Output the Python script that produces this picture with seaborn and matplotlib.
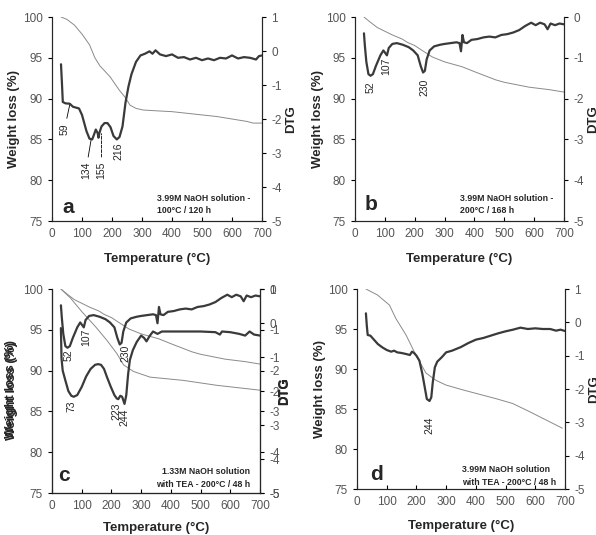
import matplotlib
matplotlib.use("Agg")
import matplotlib.pyplot as plt
import seaborn as sns

# ---- panel a : 3.99M NaOH, 100 C / 120 h ----
a_tg_T = [30, 50, 75, 100, 125, 143, 160, 193, 210, 225, 243, 260, 280, 304, 350, 400, 450, 500, 550, 600, 650, 670, 700]
a_tg_W = [100, 99.7, 99.0, 97.9, 96.6, 95.0, 94.0, 92.7, 91.8, 91.0, 90.2, 89.2, 88.8, 88.6, 88.5, 88.4, 88.2, 88.0, 87.8, 87.5, 87.2, 87.0, 87.0]
a_dtg_T = [30, 33, 36, 45, 59, 70, 90, 100, 115, 125, 134, 140, 146, 152, 155, 158, 165, 175, 185, 195, 205, 216,
           225, 235, 245, 255, 265, 280, 295, 310, 325, 335, 345, 360, 380, 400, 420, 440, 460, 480, 500, 520, 540,
           560, 580, 600, 620, 640, 660, 680, 690, 700]
a_dtg = [-0.39, -0.92, -1.50, -1.54, -1.55, -1.64, -1.69, -1.88, -2.36, -2.58, -2.60, -2.46, -2.31, -2.41, -2.55,
         -2.41, -2.22, -2.12, -2.12, -2.24, -2.50, -2.60, -2.53, -2.22, -1.52, -1.04, -0.68, -0.32, -0.13, -0.08,
         -0.01, -0.08, 0.02, -0.10, -0.15, -0.10, -0.20, -0.18, -0.25, -0.20, -0.27, -0.22, -0.27, -0.20, -0.22,
         -0.13, -0.22, -0.18, -0.20, -0.25, -0.15, -0.13]

# ---- panel b : 3.99M NaOH, 200 C / 168 h ----
b_tg_T = [30, 50, 75, 103, 125, 158, 175, 200, 225, 259, 300, 359, 400, 471, 500, 583, 650, 700]
b_tg_W = [100, 99.4, 98.7, 98.2, 97.8, 97.3, 96.9, 96.5, 95.9, 95.1, 94.5, 93.9, 93.3, 92.3, 92.0, 91.4, 91.1, 90.8]
b_dtg_T = [30, 33, 38, 45, 52, 60, 70, 85, 95, 103, 107, 113, 125, 140, 160, 180, 195, 210, 220, 228, 234, 240,
           250, 265, 285, 300, 320, 340, 350, 355, 360, 365, 375, 390, 410, 430, 450, 470, 490, 510, 530, 550,
           570, 590, 605, 620, 635, 645, 655, 670, 685, 700]
b_dtg = [-0.40, -0.70, -1.10, -1.40, -1.44, -1.40, -1.20, -0.94, -0.82, -0.90, -0.94, -0.76, -0.66, -0.64, -0.68,
         -0.74, -0.82, -0.94, -1.20, -1.36, -1.32, -1.04, -0.82, -0.72, -0.68, -0.66, -0.64, -0.62, -0.64, -0.84,
         -0.44, -0.62, -0.64, -0.56, -0.54, -0.50, -0.48, -0.50, -0.44, -0.42, -0.38, -0.32, -0.22, -0.14, -0.20,
         -0.14, -0.18, -0.30, -0.16, -0.20, -0.16, -0.18]

# ---- panel c : 1.33M NaOH with TEA, 200 C / 48 h (overlaid on b) ----
c_tg_T = [30, 62, 101, 146, 185, 218, 241, 274, 330, 442, 554, 700]
c_tg_W = [100, 98.9, 97.2, 95.4, 93.7, 92.1, 90.7, 89.9, 89.2, 88.8, 88.2, 87.6]
c_dtg_T = [30, 32, 36, 45, 55, 65, 73, 85, 100, 115, 130, 145, 155, 165, 175, 185, 198, 210, 218, 223, 230, 236,
           244, 250, 256, 262, 272, 285, 300, 310, 318, 328, 340, 355, 370, 400, 450, 500, 550, 565, 572, 600,
           630, 650, 665, 680, 700]
c_dtg = [-0.15, -1.04, -1.40, -1.69, -2.00, -2.14, -2.17, -2.12, -1.88, -1.57, -1.35, -1.23, -1.21, -1.23, -1.35,
         -1.59, -1.88, -2.12, -2.22, -2.24, -2.14, -2.17, -2.38, -2.12, -1.52, -1.09, -0.80, -0.56, -0.37, -0.44,
         -0.54, -0.39, -0.25, -0.32, -0.25, -0.25, -0.25, -0.25, -0.27, -0.34, -0.25, -0.27, -0.32, -0.37, -0.25,
         -0.34, -0.37]

# ---- panel d : 3.99M NaOH with TEA, 200 C / 48 h ----
d_tg_T = [30, 69, 109, 131, 165, 198, 232, 265, 299, 355, 467, 523, 579, 691]
d_tg_W = [100, 99.25, 98.0, 96.3, 94.25, 91.75, 89.5, 88.6, 88.0, 87.4, 86.3, 85.7, 84.7, 82.6]
d_dtg_T = [30, 33, 36, 45, 55, 70, 85, 100, 115, 125, 135, 150, 165, 178, 185, 192, 200, 210, 220, 228, 235, 244,
           250, 255, 262, 270, 285, 300, 320, 350, 375, 400, 425, 450, 475, 500, 525, 550, 575, 600, 625, 650,
           670, 685, 700]
d_dtg = [0.27, -0.10, -0.38, -0.40, -0.50, -0.65, -0.75, -0.83, -0.88, -0.85, -0.90, -0.92, -0.95, -0.98, -0.88,
         -0.92, -1.00, -1.15, -1.55, -1.95, -2.30, -2.36, -2.25, -1.80, -1.35, -1.18, -1.05, -0.90, -0.85, -0.74,
         -0.62, -0.52, -0.47, -0.40, -0.33, -0.27, -0.22, -0.16, -0.20, -0.18, -0.20, -0.20, -0.25, -0.22, -0.26]

THICK = "#3a3a3a"
THIN = "#8a8a8a"
TICKGRAY = "#555555"

sns.set_style("ticks")
plt.rcParams["font.family"] = ["Liberation Sans", "DejaVu Sans"]
plt.rcParams["axes.unicode_minus"] = False

W, H = 596, 535
fig = plt.figure(figsize=(W / 100, H / 100), dpi=100)


def px_rect(l, t, r, b):
    return [l / W, (H - b) / H, (r - l) / W, (b - t) / H]


def base_axes(rect, ylab_x, xlab_y):
    ax = fig.add_axes(px_rect(*rect))
    ax.set_xlim(0, 700)
    ax.set_ylim(75, 100)
    ax.set_xticks(range(0, 701, 100))
    ax.set_yticks(range(75, 101, 5))
    ax.spines["top"].set_visible(False)
    ax.tick_params(direction="out", length=3, width=0.8, labelsize=8.5,
                   color="k", labelcolor=TICKGRAY)
    ax.tick_params(axis="x", direction="in", pad=5)
    ax.set_xlabel("Temperature (°C)", fontsize=9.5, fontweight="bold")
    ax.xaxis.set_label_coords(0.5, xlab_y)
    ax.set_ylabel("Weight loss (%)", fontsize=9.5, fontweight="bold")
    ax.yaxis.set_label_coords(ylab_x, 0.5)
    return ax


def dtg_axes(ax, lo, hi, lab_x):
    ax2 = ax.twinx()
    ax2.set_ylim(lo, hi)
    ax2.set_yticks(range(lo, hi + 1))
    ax2.spines["top"].set_visible(False)
    ax2.tick_params(direction="out", length=3, width=0.8, labelsize=8.5,
                    color="k", labelcolor=TICKGRAY)
    ax2.set_ylabel("DTG", fontsize=9.5, fontweight="bold")
    ax2.yaxis.set_label_coords(lab_x, 0.5)
    return ax2


def tg_line(ax, x, y):
    sns.lineplot(x=x, y=y, ax=ax, color=THIN, linewidth=0.7, sort=False, estimator=None)


def dtg_line(ax, x, y):
    sns.lineplot(x=x, y=y, ax=ax, color=THICK, linewidth=1.6, sort=False, estimator=None)


def peak(ax, txt, xy, xytext, line=None):
    kw = {}
    if line:
        kw["arrowprops"] = dict(arrowstyle="-", lw=0.6, color="k", linestyle=line,
                                shrinkA=1, shrinkB=0)
    ax.annotate(txt, xy=xy, xytext=xytext, rotation=90, ha="center", va="center",
                fontsize=7.5, **kw)


def notes(ax, letter, lpos, txt, tpos, ha="left"):
    ax.text(*lpos, letter, fontsize=15, fontweight="bold", ha="center", va="center")
    ax.text(*tpos, txt, fontsize=6.3, fontweight="bold", ha=ha, va="bottom",
            multialignment=ha, linespacing=1.5)


# ---- a ----
ax = base_axes((52, 17, 262, 221), -0.152, -0.155)
tg_line(ax, a_tg_T, a_tg_W)
peak(ax, "59", (60, 89.4), (42, 86.3), "-")
peak(ax, "134", (131, 85.1), (113, 81.2), "-")
peak(ax, "155", (165, 85.7), (165, 81.2), "--")
peak(ax, "216", (216, 84.8), (221, 83.6))
notes(ax, "a", (53, 76.7), "3.99M NaOH solution -\n100°C / 120 h", (350, 75.7))
ax2 = dtg_axes(ax, -5, 1, 1.11)
dtg_line(ax2, a_dtg_T, a_dtg)

# ---- b ----
ax = base_axes((355, 17, 564, 221), -0.148, -0.155)
tg_line(ax, b_tg_T, b_tg_W)
peak(ax, "52", (52, 92.8), (52, 91.4))
peak(ax, "107", (107, 95.3), (105, 93.9))
peak(ax, "230", (230, 93.2), (231, 91.4))
notes(ax, "b", (52, 77.0), "3.99M NaOH solution -\n200°C / 168 h", (352, 75.7))
ax2 = dtg_axes(ax, -5, 0, 1.11)
dtg_line(ax2, b_dtg_T, b_dtg)

# ---- c (two runs overlaid, each with its own DTG scale) ----
ax = base_axes((52, 289, 260, 493), -0.163, -0.14)
ax.text(-0.17, 0.508, "Weight loss (%)", transform=ax.transAxes, rotation=90,
        fontsize=9.5, fontweight="bold", ha="right", va="center")
tg_line(ax, b_tg_T, b_tg_W)
tg_line(ax, c_tg_T, c_tg_W)
peak(ax, "52", (52, 92.8), (56, 91.9))
peak(ax, "107", (107, 95.3), (115, 94.1))
peak(ax, "230", (230, 93.2), (246, 92.1))
peak(ax, "73", (73, 86.8), (67, 85.6))
peak(ax, "223", (223, 86.5), (217, 85.0))
peak(ax, "244", (244, 85.9), (245, 84.3))
notes(ax, "c", (39, 77.2), "1.33M NaOH solution\nwith TEA - 200°C / 48 h", (666, 75.5), ha="right")
ax2 = dtg_axes(ax, -5, 0, 1.09)
dtg_line(ax2, b_dtg_T, b_dtg)
ax3 = dtg_axes(ax, -5, 1, 1.085)
dtg_line(ax3, c_dtg_T, c_dtg)

# ---- d ----
ax = base_axes((357, 289, 565, 489), -0.149, -0.155)
tg_line(ax, d_tg_T, d_tg_W)
peak(ax, "244", (244, 85.9), (243, 83.0))
notes(ax, "d", (64, 76.8), "3.99M NaOH solution\nwith TEA - 200°C / 48 h", (355, 75.3))
ax2 = dtg_axes(ax, -5, 1, 1.11)
dtg_line(ax2, d_dtg_T, d_dtg)

fig.savefig("out.png", dpi=100)
